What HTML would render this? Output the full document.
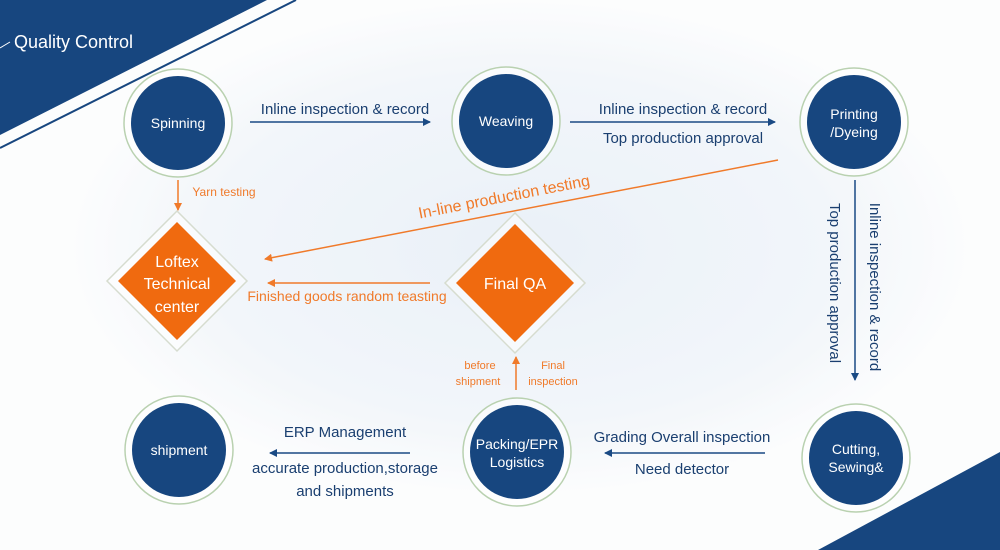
<!DOCTYPE html>
<html><head><meta charset="utf-8"><style>
html,body{margin:0;padding:0;width:1000px;height:550px;overflow:hidden;background:#fff}
svg{display:block}
text{font-family:"Liberation Sans","DejaVu Sans",sans-serif}
</style></head><body>
<svg width="1000" height="550" viewBox="0 0 1000 550">
<defs>
<radialGradient id="bg" cx="0.52" cy="0.45" r="0.45">
<stop offset="0" stop-color="#e3ecf6"/><stop offset="0.7" stop-color="#eef3f8"/><stop offset="1" stop-color="#fbfcfd"/>
</radialGradient>
<marker id="an" markerWidth="8" markerHeight="8" refX="7" refY="4" orient="auto" markerUnits="userSpaceOnUse"><path d="M0,0 L8,4 L0,8 z" fill="#1a4a84"/></marker>
<marker id="ao" markerWidth="8" markerHeight="8" refX="7" refY="4" orient="auto" markerUnits="userSpaceOnUse"><path d="M0,0 L8,4 L0,8 z" fill="#f07a2a"/></marker>
</defs>
<rect width="1000" height="550" fill="url(#bg)"/>
<rect x="0" y="0" width="1000" height="550" fill="#fff" opacity="0.25"/>
<polygon points="0,0 267,0 0,135" fill="#17467f"/>
<line x1="296" y1="0" x2="0" y2="148" stroke="#17467f" stroke-width="2"/>
<polygon points="1000,452 818,550 1000,550" fill="#17467f"/>
<line x1="0" y1="48" x2="10" y2="42" stroke="#fff" stroke-width="1"/>
<text x="14" y="48" font-size="18" fill="#fff">Quality Control</text>

<g fill="#17467f" stroke="#b9d1b0" stroke-width="1.5">
<circle cx="178" cy="123" r="54" fill="#fff" fill-opacity="0.6"/>
<circle cx="506" cy="121" r="54" fill="#fff" fill-opacity="0.6"/>
<circle cx="854" cy="122" r="54" fill="#fff" fill-opacity="0.6"/>
<circle cx="856" cy="458" r="54" fill="#fff" fill-opacity="0.6"/>
<circle cx="517" cy="452" r="54" fill="#fff" fill-opacity="0.6"/>
<circle cx="179" cy="450" r="54" fill="#fff" fill-opacity="0.6"/>
</g>
<g fill="#17467f">
<circle cx="178" cy="123" r="47"/><circle cx="506" cy="121" r="47"/><circle cx="854" cy="122" r="47"/>
<circle cx="856" cy="458" r="47"/><circle cx="517" cy="452" r="47"/><circle cx="179" cy="450" r="47"/>
</g>
<g fill="#fff" font-size="14" text-anchor="middle">
<text x="178" y="128">Spinning</text>
<text x="506" y="126">Weaving</text>
<text x="854" y="119">Printing</text><text x="854" y="137">/Dyeing</text>
<text x="856" y="454">Cutting,</text><text x="856" y="472">Sewing&amp;</text>
<text x="517" y="449">Packing/EPR</text><text x="517" y="467">Logistics</text>
<text x="179" y="455">shipment</text>
</g>

<polygon points="177,211 247,281 177,351 107,281" fill="#fff" fill-opacity="0.5" stroke="#d6dccf" stroke-width="1.5"/>
<polygon points="177,222 236,281 177,340 118,281" fill="#f06a0f"/>
<polygon points="515,213 585,283 515,353 445,283" fill="#fff" fill-opacity="0.5" stroke="#d6dccf" stroke-width="1.5"/>
<polygon points="515,224 574,283 515,342 456,283" fill="#f06a0f"/>
<g fill="#fff" font-size="16" text-anchor="middle">
<text x="177" y="267">Loftex</text><text x="177" y="289">Technical</text><text x="177" y="312">center</text>
<text x="515" y="289">Final QA</text>
</g>

<g stroke="#1a4a84" stroke-width="1.5" fill="none">
<line x1="250" y1="122" x2="430" y2="122" marker-end="url(#an)"/>
<line x1="570" y1="122" x2="775" y2="122" marker-end="url(#an)"/>
<line x1="855" y1="180" x2="855" y2="380" marker-end="url(#an)"/>
<line x1="765" y1="453" x2="605" y2="453" marker-end="url(#an)"/>
<line x1="410" y1="453" x2="270" y2="453" marker-end="url(#an)"/>
</g>
<g fill="#1a3f70" font-size="15" text-anchor="middle">
<text x="345" y="114">Inline inspection &amp; record</text>
<text x="683" y="114">Inline inspection &amp; record</text>
<text x="683" y="143">Top production approval</text>
<text transform="translate(870,287) rotate(90)" >Inline inspection &amp; record</text>
<text transform="translate(830,283) rotate(90)" >Top production approval</text>
<text x="682" y="442">Grading Overall inspection</text>
<text x="682" y="474">Need detector</text>
<text x="345" y="437">ERP Management</text>
<text x="345" y="473">accurate production,storage</text>
<text x="345" y="496">and shipments</text>
</g>

<g stroke="#f07a2a" stroke-width="1.5" fill="none">
<line x1="178" y1="180" x2="178" y2="210" marker-end="url(#ao)"/>
<line x1="778" y1="160" x2="265" y2="259" marker-end="url(#ao)"/>
<line x1="430" y1="283" x2="268" y2="283" marker-end="url(#ao)"/>
<line x1="516" y1="390" x2="516" y2="357" marker-end="url(#ao)"/>
</g>
<g fill="#f07a2a" text-anchor="middle">
<text x="224" y="196" font-size="12">Yarn testing</text>
<text transform="translate(505,202) rotate(-11)" font-size="16">In-line production testing</text>
<text x="347" y="301" font-size="14">Finished goods random teasting</text>
<text x="480" y="369" font-size="11">before</text><text x="478" y="385" font-size="11">shipment</text>
<text x="553" y="369" font-size="11">Final</text><text x="553" y="385" font-size="11">inspection</text>
</g>
</svg>
</body></html>
